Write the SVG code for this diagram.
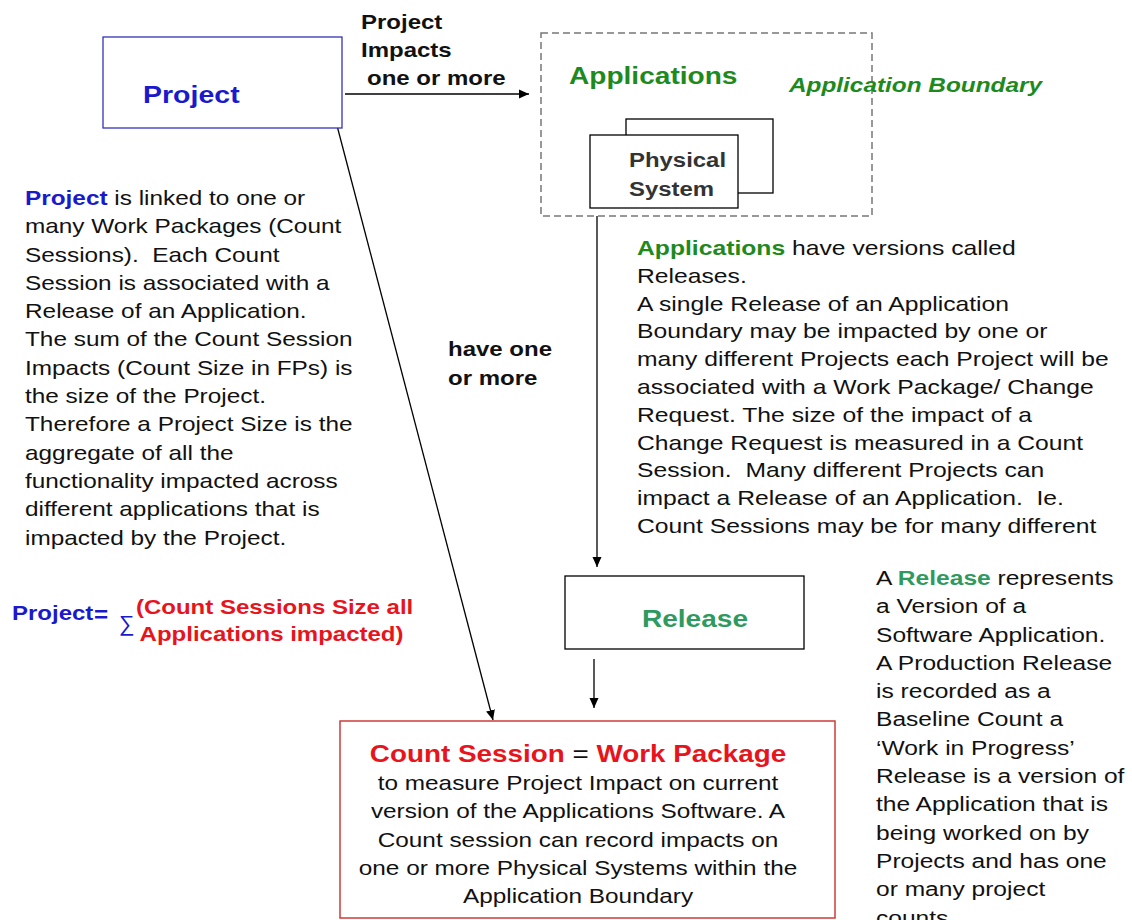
<svg xmlns="http://www.w3.org/2000/svg" width="1132" height="920" viewBox="0 0 1132 920">
<defs>
<marker id="ah" viewBox="0 0 10 10" refX="10" refY="5" markerWidth="10" markerHeight="10" markerUnits="userSpaceOnUse" orient="auto">
<path d="M0,0.5 L10,5 L0,9.5 Z" fill="#000"/>
</marker>
<style>
text{font-family:"Liberation Sans",Arial,sans-serif;fill:#111}
.b{font-weight:bold}
.blue{fill:#1a1acc}
.green{fill:#1e8a1e}
.sea{fill:#2f9a5f}
.red{fill:#e8141c}
.gray{fill:#333}
.body{font-size:21px}
.conn{stroke:#000;stroke-width:1.3;fill:none;marker-end:url(#ah)}
.box{fill:#fff;stroke:#000;stroke-width:1.3}
</style>
</defs>
<rect width="1132" height="920" fill="#fff"/>

<g id="connectors">
<line class="conn" x1="345" y1="94" x2="529" y2="94"/>
<line class="conn" x1="335" y1="118" x2="493" y2="720"/>
<line class="conn" x1="597" y1="216" x2="597" y2="567"/>
<line class="conn" x1="594" y1="659" x2="594" y2="708"/>
<text class="b" font-size="20" transform="translate(361,29) scale(1.2,1)"><tspan x="0" y="0">Project</tspan><tspan x="0" y="28">Impacts</tspan><tspan x="5" y="56">one or more</tspan></text>
<text class="b" font-size="20" transform="translate(448,356) scale(1.2,1)"><tspan x="0" y="0">have one</tspan><tspan x="0" y="29">or more</tspan></text>
</g>

<g id="project">
<rect x="103" y="37" width="239" height="91" fill="#fff" stroke="#3333bb" stroke-width="1.3"/>
<text class="b blue" font-size="23" transform="translate(143,103) scale(1.24,1)">Project</text>
</g>

<g id="applications">
<rect x="541" y="33" width="331" height="183" fill="none" stroke="#777" stroke-width="1.5" stroke-dasharray="7,4"/>
<text class="b green" font-size="24" transform="translate(569,84) scale(1.17,1)">Applications</text>
<text class="b green" font-size="21" font-style="italic" transform="translate(789,92) scale(1.16,1)">Application Boundary</text>
</g>

<g id="physical-system">
<rect class="box" x="626" y="119" width="147" height="74"/>
<rect class="box" x="590" y="135" width="148" height="73"/>
<text class="b gray" font-size="21" transform="translate(629,167) scale(1.14,1)"><tspan x="0" y="0">Physical</tspan><tspan x="0" y="29">System</tspan></text>
</g>

<g id="release">
<rect class="box" x="565" y="576" width="239" height="73"/>
<text class="b sea" font-size="24" text-anchor="middle" transform="translate(695,627) scale(1.17,1)">Release</text>
</g>

<g id="count-session">
<rect x="340" y="721" width="495" height="197" fill="#fff" stroke="#d03a3a" stroke-width="1.5"/>
<text class="b" font-size="24" text-anchor="middle" transform="translate(578,762) scale(1.16,1)"><tspan class="red">Count Session</tspan><tspan font-weight="normal"> = </tspan><tspan class="red">Work Package</tspan></text>
<text class="body" text-anchor="middle" transform="translate(578,790) scale(1.16,1)"><tspan x="0" y="0">to measure Project Impact on current</tspan><tspan x="0" y="28.3">version of the Applications Software. A</tspan><tspan x="0" y="56.6">Count session can record impacts on</tspan><tspan x="0" y="84.9">one or more Physical Systems within the</tspan><tspan x="0" y="113.2">Application Boundary</tspan></text>
</g>

<g id="project-note">
<text class="body" transform="translate(25,205) scale(1.16,1)"><tspan x="0" y="0"><tspan class="b blue">Project</tspan> is linked to one or</tspan><tspan x="0" y="28.3">many Work Packages (Count</tspan><tspan x="0" y="56.6">Sessions).&#160; Each Count</tspan><tspan x="0" y="84.9">Session is associated with a</tspan><tspan x="0" y="113.2">Release of an Application.</tspan><tspan x="0" y="141.5">The sum of the Count Session</tspan><tspan x="0" y="169.8">Impacts (Count Size in FPs) is</tspan><tspan x="0" y="198.1">the size of the Project.</tspan><tspan x="0" y="226.4">Therefore a Project Size is the</tspan><tspan x="0" y="254.7">aggregate of all the</tspan><tspan x="0" y="283">functionality impacted across</tspan><tspan x="0" y="311.3">different applications that is</tspan><tspan x="0" y="339.6">impacted by the Project.</tspan></text>
</g>

<g id="formula">
<text class="b blue" font-size="20" transform="translate(12,620) scale(1.2,1)">Project</text>
<text class="b blue" font-size="22" transform="translate(94,622) scale(1.1,1)">=</text>
<text class="blue" font-size="22" transform="translate(119,631)">∑</text>
<text class="b red" font-size="20" transform="translate(136,614) scale(1.2,1)"><tspan x="0" y="0">(Count Sessions Size all</tspan><tspan x="3" y="27">Applications impacted)</tspan></text>
</g>

<g id="applications-note">
<text font-size="20" transform="translate(637,255) scale(1.235,1)"><tspan x="0" y="0"><tspan class="b green">Applications</tspan> have versions called</tspan><tspan x="0" y="27.8">Releases.</tspan><tspan x="0" y="55.6">A single Release of an Application</tspan><tspan x="0" y="83.4">Boundary may be impacted by one or</tspan><tspan x="0" y="111.2">many different Projects each Project will be</tspan><tspan x="0" y="139">associated with a Work Package/ Change</tspan><tspan x="0" y="166.8">Request. The size of the impact of a</tspan><tspan x="0" y="194.6">Change Request is measured in a Count</tspan><tspan x="0" y="222.4">Session.&#160; Many different Projects can</tspan><tspan x="0" y="250.2">impact a Release of an Application.&#160; Ie.</tspan><tspan x="0" y="278">Count Sessions may be for many different</tspan></text>
</g>

<g id="release-note">
<text class="body" transform="translate(876,585) scale(1.17,1)"><tspan x="0" y="0">A <tspan class="b sea">Release</tspan> represents</tspan><tspan x="0" y="28.3">a Version of a</tspan><tspan x="0" y="56.6">Software Application.</tspan><tspan x="0" y="84.9">A Production Release</tspan><tspan x="0" y="113.2">is recorded as a</tspan><tspan x="0" y="141.5">Baseline Count a</tspan><tspan x="0" y="169.8">‘Work in Progress’</tspan><tspan x="0" y="198.1">Release is a version of</tspan><tspan x="0" y="226.4">the Application that is</tspan><tspan x="0" y="254.7">being worked on by</tspan><tspan x="0" y="283">Projects and has one</tspan><tspan x="0" y="311.3">or many project</tspan><tspan x="0" y="339.6">counts.</tspan></text>
</g>
</svg>
